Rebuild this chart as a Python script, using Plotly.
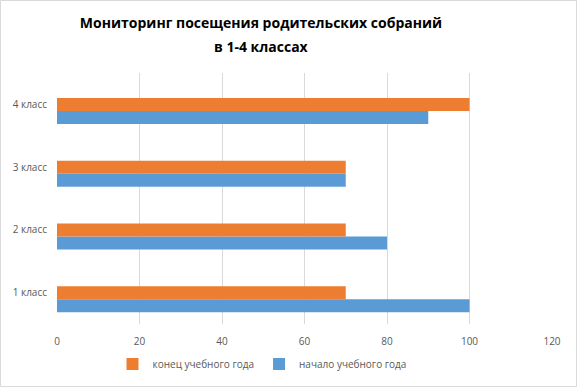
import plotly.graph_objects as go

categories = ["1 класс", "2 класс", "3 класс", "4 класс"]
start_values = [100, 80, 70, 90]
end_values = [70, 70, 70, 100]
series_names = ["начало учебного года", "конец учебного года"]
x_ticks = [0, 20, 40, 60, 80, 100, 120]
title_lines = ["Мониторинг посещения родительских собраний", "в 1-4 классах"]

W, H = 577, 387
ml, mr, mt, mb = 57, 25, 73, 63
pw, ph = W - ml - mr, H - mt - mb
title_font = dict(family="Open Sans", size=14, color="#000000", weight="bold")
bar_w = 0.207
title_x = (261 - ml) / pw

fig = go.Figure()
fig.add_trace(go.Bar(y=categories, x=start_values, orientation="h", name=series_names[0],
                     width=bar_w, offset=-0.104 - bar_w,
                     marker=dict(color="#5B9BD5", line=dict(width=0))))
fig.add_trace(go.Bar(y=categories, x=end_values, orientation="h", name=series_names[1],
                     width=bar_w, offset=-0.104,
                     marker=dict(color="#ED7D31", line=dict(width=0))))

fig.update_layout(
    width=W, height=H,
    margin=dict(l=ml, r=mr, t=mt, b=mb, pad=0),
    paper_bgcolor="white", plot_bgcolor="white",
    barmode="overlay",
    title=dict(text=title_lines[0], x=title_x, xanchor="center", xref="paper",
               y=1 - 23 / H, yanchor="middle", yref="container", font=title_font),
    font=dict(family="Open Sans", size=10, color="#595959"),
    xaxis=dict(range=[0, 120], tickvals=x_ticks, showgrid=True, gridcolor="#D9D9D9",
               gridwidth=1, zeroline=False, showline=False, ticks="",
               ticklabelstandoff=10, automargin=False,
               tickfont=dict(size=10, color="#595959")),
    yaxis=dict(showgrid=False, zeroline=False, showline=False, ticks="",
               range=[-0.5, 3.5], ticklabelstandoff=9, automargin=False,
               tickfont=dict(size=10, color="#595959")),
    legend=dict(orientation="h", x=(262 - ml) / pw, xanchor="center", xref="paper",
                y=1 - 364 / H, yanchor="middle", yref="container",
                traceorder="reversed", font=dict(size=10, color="#595959"),
                itemwidth=30),
    showlegend=True,
)

fig.add_annotation(text=title_lines[1], xref="paper", yref="paper", x=title_x, xanchor="center",
                   y=1 + (mt - 46) / ph, yanchor="middle", showarrow=False, font=title_font)

fig.add_shape(type="rect", xref="paper", yref="paper",
              x0=(0.5 - ml) / pw, x1=(W - 0.5 - ml) / pw,
              y0=-(H - 0.5 - mt - ph) / ph, y1=1 + (mt - 0.5) / ph,
              line=dict(color="#D9D9D9", width=1), fillcolor="rgba(0,0,0,0)", layer="below")

fig.write_html("out.html", config={"displayModeBar": False},
               post_script="document.body.style.margin='0';document.body.style.overflow='hidden';")
